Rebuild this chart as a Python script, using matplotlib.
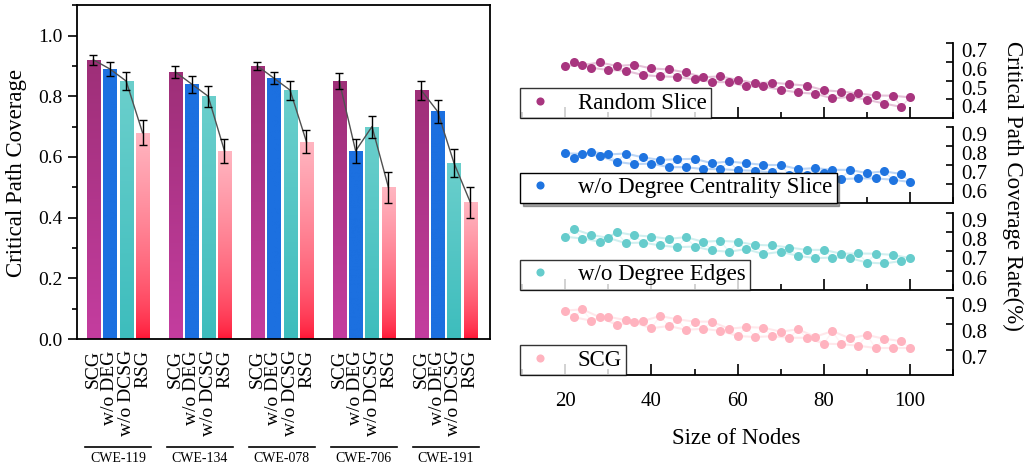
import numpy as np
import matplotlib
matplotlib.use("Agg")
import matplotlib.pyplot as plt
from matplotlib.colors import to_rgb
from matplotlib.ticker import MultipleLocator
import matplotlib.transforms as mtrans

plt.rcParams['font.family'] = ['Liberation Serif', 'DejaVu Serif']
plt.rcParams['mathtext.fontset'] = 'stix'

# ---- left panel data: coverage per CWE group ----
groups = ['CWE-119', 'CWE-134', 'CWE-078', 'CWE-706', 'CWE-191']
methods = ['SCG', 'w/o DEG', 'w/o DCSG', 'RSG']
scg = [0.92, 0.88, 0.90, 0.85, 0.82]
deg = [0.89, 0.84, 0.86, 0.62, 0.75]
dcsg = [0.85, 0.80, 0.82, 0.70, 0.58]
rsg = [0.68, 0.62, 0.65, 0.50, 0.45]
scg_err = [0.017, 0.020, 0.014, 0.025, 0.031]
deg_err = [0.024, 0.028, 0.021, 0.040, 0.039]
dcsg_err = [0.030, 0.035, 0.031, 0.036, 0.046]
rsg_err = [0.042, 0.040, 0.038, 0.052, 0.050]

# ---- right panels: coverage rate vs node count ----
nodes = list(range(20, 101, 2))
random_slice = [0.579, 0.600, 0.583, 0.569, 0.597, 0.557, 0.578, 0.553, 0.585, 0.530,
                0.565, 0.523, 0.560, 0.520, 0.544, 0.507, 0.518, 0.493, 0.523, 0.492,
                0.504, 0.469, 0.488, 0.469, 0.490, 0.451, 0.481, 0.437, 0.474, 0.430,
                0.449, 0.406, 0.442, 0.413, 0.432, 0.399, 0.421, 0.378, 0.420, 0.360,
                0.411]
wo_degree_slice = [0.762, 0.738, 0.759, 0.771, 0.747, 0.756, 0.717, 0.761, 0.705, 0.741,
                   0.708, 0.727, 0.689, 0.731, 0.689, 0.733, 0.679, 0.710, 0.679, 0.719,
                   0.673, 0.710, 0.670, 0.701, 0.661, 0.700, 0.649, 0.679, 0.649, 0.684,
                   0.656, 0.675, 0.626, 0.675, 0.630, 0.658, 0.630, 0.667, 0.623, 0.653,
                   0.611]
wo_degree_edges = [0.776, 0.816, 0.767, 0.786, 0.750, 0.770, 0.800, 0.743, 0.784, 0.746,
                   0.777, 0.731, 0.765, 0.722, 0.774, 0.725, 0.750, 0.705, 0.755, 0.698,
                   0.750, 0.712, 0.734, 0.686, 0.731, 0.698, 0.720, 0.677, 0.708, 0.665,
                   0.708, 0.668, 0.688, 0.665, 0.689, 0.642, 0.688, 0.637, 0.682, 0.650,
                   0.665]
scg_nodes = [0.852, 0.826, 0.857, 0.813, 0.826, 0.828, 0.796, 0.815, 0.806, 0.811,
             0.783, 0.831, 0.792, 0.818, 0.777, 0.809, 0.781, 0.809, 0.773, 0.781,
             0.753, 0.788, 0.749, 0.785, 0.752, 0.770, 0.746, 0.779, 0.746, 0.750,
             0.723, 0.772, 0.721, 0.744, 0.715, 0.757, 0.706, 0.742, 0.706, 0.733,
             0.706]

fig = plt.figure(figsize=(10.36, 4.69), dpi=100)

# ================= left bar chart =================
ax = fig.add_axes([0.0743, 0.277, 0.3987, 0.712])

# (top colour, bottom colour, curve power) for each method
grads = [('#9E2F78', '#C43D9F', 1.0),
         ('#1C70E0', '#1C70E0', 1.0),
         ('#6BCFCC', '#3DBDBD', 1.0),
         ('#FFB6C1', '#FF1030', 0.6)]
vals = [scg, deg, dcsg, rsg]
errs = [scg_err, deg_err, dcsg_err, rsg_err]
width = 0.8
gap = 5

ticks, ticklabels = [], []
for g in range(len(groups)):
    xs = [g * gap + i for i in range(4)]
    ys = [vals[i][g] for i in range(4)]
    for i in range(4):
        x, h = xs[i], ys[i]
        rect = ax.bar(x, h, width, color='none', edgecolor='none', zorder=2)[0]
        ctop, cbot, pw = grads[i]
        top = np.array(to_rgb(ctop))
        bot = np.array(to_rgb(cbot))
        t = np.linspace(0, 1, 256)[:, None, None] ** pw
        img = bot + (top - bot) * t
        im = ax.imshow(img, extent=[x - width / 2, x + width / 2, 0, h],
                       origin='lower', aspect='auto', zorder=2)
        im.set_clip_path(rect)
        ax.errorbar(x, h, yerr=errs[i][g], color='black', capsize=3,
                    elinewidth=1, capthick=1, zorder=4)
        ticks.append(x)
        ticklabels.append(methods[i])
    ax.plot(xs, ys, color='#505050', lw=1, zorder=3)

ax.set_xlim(-1, 24.2)
ax.set_ylim(0, 1.1)
ax.set_xticks(ticks)
ax.set_xticklabels(ticklabels, rotation=90, fontsize=14)
ax.tick_params(axis='x', length=0, pad=8)
ax.set_yticks([0, 0.2, 0.4, 0.6, 0.8, 1.0])
ax.set_yticklabels(['0.0', '0.2', '0.4', '0.6', '0.8', '1.0'], fontsize=14)
ax.yaxis.set_minor_locator(MultipleLocator(0.1))
ax.tick_params(axis='y', which='major', direction='out', length=6.5, width=1.2, pad=4)
ax.tick_params(axis='y', which='minor', direction='out', length=3.5, width=1.2)
for s in ax.spines.values():
    s.set_linewidth(1.3)

# group brackets under the tick labels
trans = mtrans.blended_transform_factory(ax.transData, ax.transAxes)
for g, name in enumerate(groups):
    x0 = g * gap - 0.5
    x1 = g * gap + 3.5
    ax.plot([x0, x1], [-0.323, -0.323], color='black', lw=1.2,
            transform=trans, clip_on=False)
    ax.text((x0 + x1) / 2, -0.358, name, transform=trans, ha='center',
            va='center', fontsize=10)

fig.text(0.0155, 0.632, 'Critical Path Coverage', rotation=90,
         ha='center', va='center', fontsize=16.5)

# ================= right stacked scatter panels =================
series = [random_slice, wo_degree_slice, wo_degree_edges, scg_nodes]
names = ['Random Slice', 'w/o Degree Centrality Slice', 'w/o Degree Edges', 'SCG']
colors = ['#A8357F', '#1F74E0', '#66CCCC', '#FFB3BF']
ylims = [(0.3, 0.7), (0.5, 0.9), (0.5, 0.9), (0.6, 0.9)]
yticks = [[0.4, 0.5, 0.6, 0.7], [0.6, 0.7, 0.8, 0.9],
          [0.6, 0.7, 0.8, 0.9], [0.7, 0.8, 0.9]]
boxes = [(0.748, 0.160), (0.567, 0.162), (0.382, 0.164), (0.200, 0.164)]

for k in range(4):
    b, hgt = boxes[k]
    a = fig.add_axes([0.504, b, 0.416, hgt])
    y = series[k]
    a.plot(nodes[0::2], y[0::2], color=colors[k], lw=1.5, alpha=0.3, zorder=1)
    a.plot(nodes[1::2], y[1::2], color=colors[k], lw=1.5, alpha=0.3, zorder=1)
    a.plot(nodes, y, color=colors[k], lw=1, alpha=0.15, zorder=1)
    a.plot(nodes, y, 'o', color=colors[k], ms=6.5, mec='none', zorder=3,
           label=names[k])
    a.set_xlim(10, 110)
    a.set_ylim(*ylims[k])
    a.spines['left'].set_visible(False)
    a.spines['top'].set_visible(False)
    a.spines['right'].set_linewidth(1.3)
    a.spines['bottom'].set_linewidth(1.3)
    a.yaxis.tick_right()
    a.set_yticks(yticks[k])
    a.set_yticklabels(['%.1f' % v for v in yticks[k]], fontsize=15)
    for lbl in a.get_yticklabels():
        lbl.set_va('top')
    a.tick_params(axis='y', direction='in', length=5, width=1.2, pad=6)
    a.xaxis.set_major_locator(MultipleLocator(20))
    a.xaxis.set_minor_locator(MultipleLocator(10))
    a.tick_params(axis='x', which='major', direction='in', length=8, width=1.2, pad=12)
    a.tick_params(axis='x', which='minor', direction='in', length=4, width=1.2)
    if k < 3:
        a.tick_params(axis='x', labelbottom=False)
    else:
        a.tick_params(axis='x', labelsize=15)
    leg = a.legend(loc='lower left', bbox_to_anchor=(-0.004, 0.0), fontsize=16.5,
                   frameon=True, fancybox=False, shadow=(k == 1),
                   handlelength=1.3, handletextpad=1.0, borderpad=0.2,
                   borderaxespad=0.0, markerscale=0.9)
    leg.get_frame().set_edgecolor('black')
    leg.get_frame().set_linewidth(1.0)

fig.text(0.977, 0.603, 'Critical Path Coverage Rate(%)', rotation=270,
         ha='center', va='center', fontsize=16.5)
fig.text(0.711, 0.066, 'Size of Nodes', ha='center', va='center', fontsize=16.5)

fig.savefig('out.png', dpi=100)
